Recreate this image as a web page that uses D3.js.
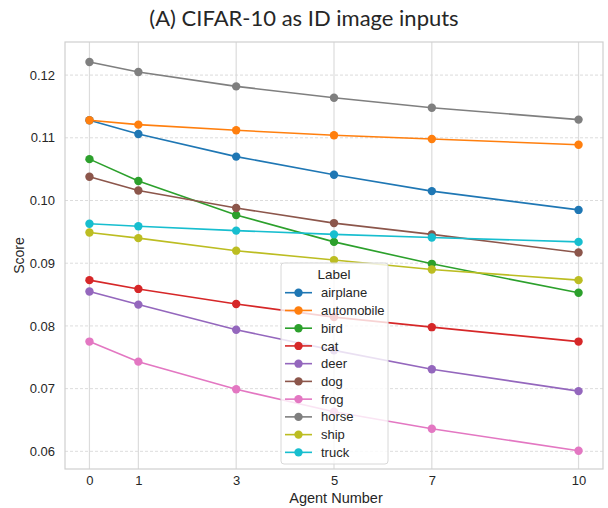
<!DOCTYPE html>
<html>
<head>
<meta charset="utf-8">
<script src="https://cdn.jsdelivr.net/npm/d3@7"></script>
<style>
  body { margin: 0; background: #fff; }
  text { font-family: "Liberation Sans", Arial, sans-serif; fill: #262626; }
</style>
</head>
<body>
<div id="chart-area"></div>
<script>
const margin = { top: 42, right: 5, bottom: 39, left: 65 };
const width = 608 - margin.left - margin.right;
const height = 508 - margin.top - margin.bottom;

// Data
const agents = [0, 1, 3, 5, 7, 10];
const labels = ["airplane", "automobile", "bird", "cat", "deer", "dog", "frog", "horse", "ship", "truck"];
const airplane = [0.1128, 0.1106, 0.1070, 0.1041, 0.1015, 0.0985];
const automobile = [0.1128, 0.1121, 0.1112, 0.1104, 0.1098, 0.1089];
const bird = [0.1066, 0.1031, 0.0977, 0.0934, 0.0899, 0.0853];
const cat = [0.0873, 0.0859, 0.0835, 0.0814, 0.0798, 0.0775];
const deer = [0.0855, 0.0834, 0.0794, 0.0761, 0.0731, 0.0696];
const dog = [0.1038, 0.1016, 0.0988, 0.0964, 0.0946, 0.0917];
const frog = [0.0775, 0.0743, 0.0699, 0.0663, 0.0636, 0.0601];
const horse = [0.1221, 0.1205, 0.1182, 0.1164, 0.1148, 0.1129];
const ship = [0.0949, 0.0940, 0.0920, 0.0905, 0.0890, 0.0873];
const truck = [0.0963, 0.0959, 0.0952, 0.0946, 0.0941, 0.0934];
const yTicks = [0.06, 0.07, 0.08, 0.09, 0.10, 0.11, 0.12];

const seriesValues = { airplane, automobile, bird, cat, deer, dog, frog, horse, ship, truck };
const series = labels.map((label) => ({
    label,
    points: agents.map((a, i) => ({ x: a, y: seriesValues[label][i] })),
}));

const svg = d3
    .select("#chart-area")
    .append("svg")
    .attr("width", 608)
    .attr("height", 508);

const g = svg
    .append("g")
    .attr("transform", `translate(${margin.left}, ${margin.top})`);

//Scales
const xScale = d3.scaleLinear().domain([-0.5, 10.5]).range([0, width]);
const yScale = d3.scaleLinear().domain([0.05718, 0.12528]).range([height, 0]);
const color = d3.scaleOrdinal().domain(labels).range(d3.schemeCategory10);

//Grid
g.append("g")
    .selectAll("line")
    .data(agents)
    .join("line")
    .attr("x1", (d) => xScale(d))
    .attr("x2", (d) => xScale(d))
    .attr("y1", 0)
    .attr("y2", height)
    .attr("stroke", "#dcdcdc")
    .attr("stroke-width", 1.2);

g.append("g")
    .selectAll("line")
    .data(yTicks)
    .join("line")
    .attr("x1", 0)
    .attr("x2", width)
    .attr("y1", (d) => yScale(d))
    .attr("y2", (d) => yScale(d))
    .attr("stroke", "#d8d8d8")
    .attr("stroke-width", 0.9)
    .attr("stroke-dasharray", "3,2");

//Axes
const xAxisCall = d3.axisBottom(xScale).tickValues(agents).tickSize(0).tickPadding(7);
const yAxisCall = d3
    .axisLeft(yScale)
    .tickValues(yTicks)
    .tickSize(0)
    .tickPadding(10)
    .tickFormat(d3.format(".2f"));

const xAxis = g
    .append("g")
    .attr("transform", `translate(0, ${height})`)
    .call(xAxisCall);
const yAxis = g.append("g").call(yAxisCall);
[xAxis, yAxis].forEach((ax) => {
    ax.select(".domain").remove();
    ax.selectAll("text").attr("font-size", "13px").attr("fill", "#262626")
        .style("font-family", "'Liberation Sans', Arial, sans-serif");
});

//Frame
g.append("rect")
    .attr("width", width)
    .attr("height", height)
    .attr("fill", "none")
    .attr("stroke", "#cfcfcf")
    .attr("stroke-width", 1.2);

//Lines
const line = d3
    .line()
    .x((d) => xScale(d.x))
    .y((d) => yScale(d.y));

const seriesG = g
    .selectAll(".series")
    .data(series)
    .join("g")
    .attr("class", "series");

seriesG
    .append("path")
    .attr("d", (d) => line(d.points))
    .attr("fill", "none")
    .attr("stroke", (d) => color(d.label))
    .attr("stroke-width", 1.6);

seriesG
    .selectAll("circle")
    .data((d) => d.points.map((p) => ({ ...p, label: d.label })))
    .join("circle")
    .attr("cx", (d) => xScale(d.x))
    .attr("cy", (d) => yScale(d.y))
    .attr("r", 4.2)
    .attr("fill", (d) => color(d.label));

//Labels
svg.append("text")
    .attr("x", 304)
    .attr("y", 26)
    .attr("text-anchor", "middle")
    .attr("font-size", "22px")
    .style("font-family", "Lato, 'Open Sans', sans-serif")
    .attr("fill", "#000")
    .text("(A) CIFAR-10 as ID image inputs");

g.append("text")
    .attr("x", width / 2 + 2)
    .attr("y", height + 34)
    .attr("text-anchor", "middle")
    .attr("font-size", "14.5px")
    .text("Agent Number");

g.append("text")
    .attr("x", -height / 2)
    .attr("y", -41)
    .attr("text-anchor", "middle")
    .attr("transform", "rotate(-90)")
    .attr("font-size", "14px")
    .text("Score");

//Legend
const legend = g
    .append("g")
    .attr("class", "legend")
    .attr("transform", `translate(${281 - margin.left}, ${263 - margin.top})`);

legend
    .append("rect")
    .attr("width", 107)
    .attr("height", 201)
    .attr("rx", 3)
    .attr("fill", "#fff")
    .attr("fill-opacity", 0.8)
    .attr("stroke", "#d8d8d8");

legend
    .append("text")
    .attr("x", 53)
    .attr("y", 16)
    .attr("text-anchor", "middle")
    .attr("font-size", "13.5px")
    .text("Label");

labels.forEach((label, i) => {
    const row = legend
        .append("g")
        .attr("transform", `translate(0, ${29.7 + 17.74 * i})`);
    row.append("line")
        .attr("x1", 4)
        .attr("x2", 31)
        .attr("stroke", color(label))
        .attr("stroke-width", 1.6);
    row.append("circle")
        .attr("cx", 17.5)
        .attr("r", 4.2)
        .attr("fill", color(label));
    row.append("text")
        .attr("x", 40)
        .attr("y", 4.6)
        .attr("font-size", "13px")
        .text(label);
});
</script>
</body>
</html>
